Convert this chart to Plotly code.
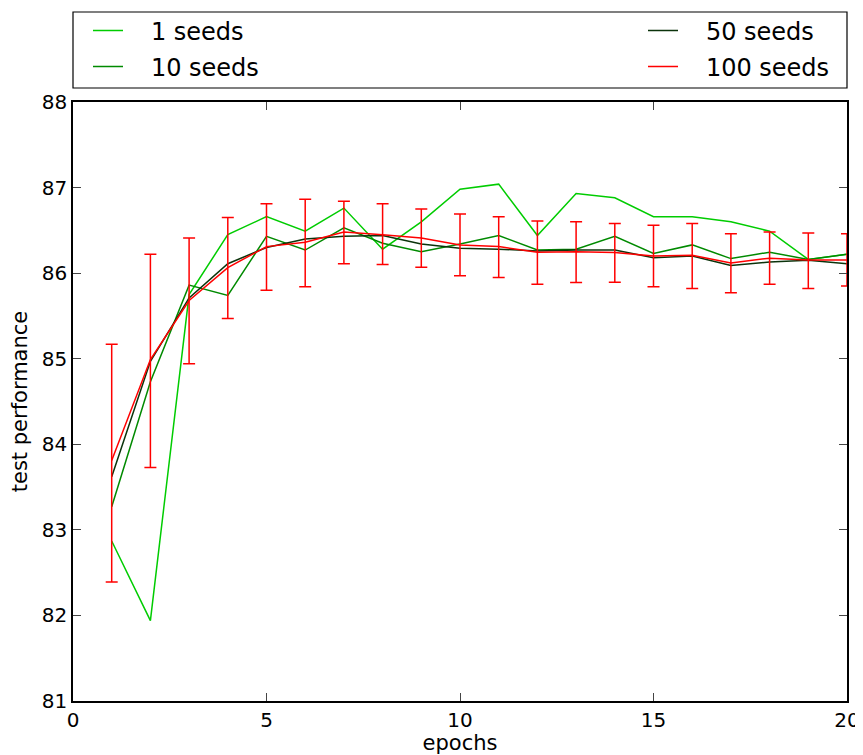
import plotly.graph_objects as go

epochs = list(range(1, 21))

seeds_1 = [82.87, 81.94, 85.75, 86.45, 86.66, 86.49, 86.76, 86.28, 86.60, 86.98,
           87.04, 86.44, 86.93, 86.88, 86.66, 86.66, 86.60, 86.49, 86.16, 86.22]
seeds_10 = [83.27, 84.73, 85.86, 85.74, 86.43, 86.27, 86.53, 86.35, 86.25, 86.34,
            86.44, 86.27, 86.28, 86.43, 86.23, 86.33, 86.17, 86.245, 86.16, 86.22]
seeds_50 = [83.62, 84.97, 85.71, 86.11, 86.30, 86.40, 86.43, 86.44, 86.34, 86.29,
            86.28, 86.26, 86.27, 86.27, 86.18, 86.20, 86.09, 86.13, 86.15, 86.11]
seeds_100 = [83.81, 84.99, 85.68, 86.065, 86.31, 86.36, 86.48, 86.45, 86.41, 86.33,
             86.31, 86.245, 86.25, 86.24, 86.20, 86.21, 86.12, 86.175, 86.155, 86.155]
seeds_100_upper = [85.17, 86.22, 86.41, 86.65, 86.81, 86.864, 86.84, 86.81, 86.75, 86.69,
                   86.66, 86.61, 86.60, 86.58, 86.56, 86.58, 86.46, 86.48, 86.47, 86.46]
seeds_100_lower = [82.39, 83.73, 84.94, 85.47, 85.80, 85.84, 86.11, 86.10, 86.07, 85.97,
                   85.95, 85.87, 85.89, 85.895, 85.84, 85.82, 85.77, 85.87, 85.82, 85.85]

x_ticks = [0, 5, 10, 15, 20]
y_ticks = [81, 82, 83, 84, 85, 86, 87, 88]

err_plus = [u - m for u, m in zip(seeds_100_upper, seeds_100)]
err_minus = [m - l for m, l in zip(seeds_100, seeds_100_lower)]

FONT = "DejaVu Sans"
PAD = "\u00a0\u00a0\u00a0"
fig = go.Figure()
fig.add_trace(go.Scatter(x=epochs, y=seeds_1, mode="lines", name=PAD + "1 seeds",
                         line=dict(color="#00cc00", width=1.5), legend="legend",
                         showlegend=True))
fig.add_trace(go.Scatter(x=epochs, y=seeds_10, mode="lines", name=PAD + "10 seeds",
                         line=dict(color="#008a00", width=1.5), legend="legend2",
                         showlegend=True))
fig.add_trace(go.Scatter(x=epochs, y=seeds_50, mode="lines", name=PAD + "50 seeds",
                         line=dict(color="#0b330b", width=1.5), legend="legend3",
                         showlegend=True))
fig.add_trace(go.Scatter(x=epochs, y=seeds_100, mode="lines", name=PAD + "100 seeds",
                         line=dict(color="#ff0000", width=1.5), legend="legend4",
                         showlegend=True,
                         error_y=dict(type="data", symmetric=False, array=err_plus,
                                      arrayminus=err_minus, color="#ff0000",
                                      thickness=1.5, width=6)))

# page body has an 8px margin; figure is sized to fill the rest of the window
OFF = 8.0
FIG_W, FIG_H = 863 - 8, 755 - 8
plot_l, plot_r, plot_t, plot_b = 73.0 - OFF, 847.0 - OFF, 102.0 - OFF, 701.0 - OFF
plot_w = plot_r - plot_l
plot_h = plot_b - plot_t

def px(p):
    return (p - OFF - plot_l) / plot_w

def py(p):
    return (plot_b - (p - OFF)) / plot_h

def leg(x, y):
    return dict(x=x, y=y, xanchor="left", yanchor="middle", xref="paper", yref="paper",
                bgcolor="rgba(0,0,0,0)", borderwidth=0, visible=True,
                font=dict(family=FONT, size=24, color="black"))

fig.update_layout(
    width=FIG_W, height=FIG_H,
    margin=dict(l=plot_l, r=FIG_W - plot_r, t=plot_t, b=FIG_H - plot_b, autoexpand=False),
    paper_bgcolor="white", plot_bgcolor="white",
    showlegend=True,
    font=dict(family=FONT, size=20, color="black"),
    legend=leg(px(88), py(31)),
    legend2=leg(px(88), py(67)),
    legend3=leg(px(643), py(31)),
    legend4=leg(px(643), py(67)),
    xaxis=dict(range=[0, 20], tickvals=x_ticks, ticks="inside", ticklen=8,
               showline=True, linecolor="black", linewidth=1.5, mirror="ticks",
               showgrid=False, zeroline=False,
               tickfont=dict(family=FONT, size=20),
               title=dict(text="epochs", font=dict(family=FONT, size=21), standoff=5)),
    yaxis=dict(range=[81, 88], tickvals=y_ticks, ticks="inside", ticklen=8,
               showline=True, linecolor="black", linewidth=1.5, mirror="ticks",
               showgrid=False, zeroline=False,
               tickfont=dict(family=FONT, size=20),
               title=dict(text="test performance", font=dict(family=FONT, size=21), standoff=8)),
    shapes=[dict(type="rect", xref="paper", yref="paper",
                 x0=0, x1=1, y0=py(88), y1=py(12),
                 line=dict(color="black", width=1.2), fillcolor="rgba(0,0,0,0)")],
)

fig.write_html("out.html")
